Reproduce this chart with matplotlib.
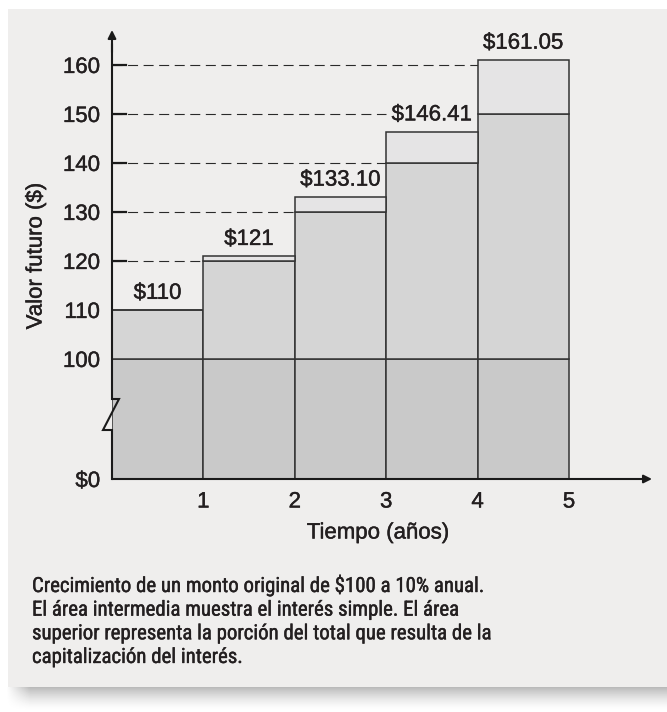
import numpy as np
import matplotlib
matplotlib.use('Agg')
import matplotlib.pyplot as plt
import matplotlib.patheffects as pe
from matplotlib.patches import Rectangle

plt.rcParams['font.family'] = ['Liberation Sans', 'DejaVu Sans']

# Datos: crecimiento de $100 a 10% anual
anios = np.array([1, 2, 3, 4, 5])
principal = np.array([100, 100, 100, 100, 100])
interes_simple = np.array([10, 20, 30, 40, 50])
valor_futuro = np.array([110, 121, 133.10, 146.41, 161.05])
etiquetas_valor = ['$110', '$121', '$133.10', '$146.41', '$161.05']

niveles_guia = [120, 130, 140, 150, 160]
fin_guia = [1, 2, 3, 3, 4]
yticks = [0, 100, 110, 120, 130, 140, 150, 160]
yticklabels = ['$0', '100', '110', '120', '130', '140', '150', '160']

texto_pie = ('Crecimiento de un monto original de $100 a 10% anual.\n'
             'El área intermedia muestra el interés simple. El área\n'
             'superior representa la porción del total que resulta de la\n'
             'capitalización del interés.')

TXT = '#231f20'
FONDO = '#efeeed'
W, H = 667, 712
grueso = [pe.withStroke(linewidth=0.3, foreground=TXT)]


def fx(px):
    return px / W


def fy(py):
    return 1 - py / H


# escala con el eje cortado entre 0 y 100
def adelante(y):
    y = np.asarray(y, dtype=float)
    return np.where(y < 100, y * 0.245, y - 75.5)


def inversa(u):
    u = np.asarray(u, dtype=float)
    return np.where(u < 24.5, u / 0.245, u + 75.5)


fig = plt.figure(figsize=(W / 100, H / 100), dpi=100)
fig.patch.set_facecolor('white')

# sombra bajo el panel
sh = fig.add_axes([0, fy(712), 1, 25 / H], zorder=-6)
filas = np.linspace(0, 1, 25)[:, None]
cols = np.arange(W)[None, :]
oscuro = 0.27 * (1 - filas) ** 1.6 * np.clip((cols - 6) / 24, 0, 1)
sh.imshow(1 - oscuro, cmap='gray', vmin=0, vmax=1, aspect='auto',
          interpolation='bilinear')
sh.axis('off')

fig.add_artist(Rectangle((fx(8), fy(687)), fx(W - 8), (687 - 9) / H,
                         transform=fig.transFigure, facecolor=FONDO,
                         lw=0, zorder=-4))

ax = fig.add_axes([fx(112), fy(479), fx(652 - 112), (479 - 30) / H])
ax.set_facecolor('none')
ax.set_yscale('function', functions=(adelante, inversa))
ax.set_xlim(0, (652 - 112) / 91.4)
ax.set_ylim(0, inversa(449 / 4.9))

ec = '#333333'
x0 = anios - 1
ax.bar(x0, principal, width=1, align='edge', color='#c9c9c9', edgecolor=ec, lw=1.1, zorder=2)
ax.bar(x0, interes_simple, width=1, bottom=principal, align='edge',
       color='#d5d5d5', edgecolor=ec, lw=1.1, zorder=2)
ax.bar(x0, valor_futuro - principal - interes_simple, width=1,
       bottom=principal + interes_simple, align='edge',
       color='#e5e4e5', edgecolor=ec, lw=1.1, zorder=2)

for x, v, t in zip(x0, valor_futuro, etiquetas_valor):
    ax.annotate(t, xy=(x + 0.5, v), xytext=(0, 8), textcoords='offset points',
                ha='center', va='baseline', fontsize=16, color=TXT,
                path_effects=grueso)

# líneas guía punteadas y marcas
for nivel, fin in zip(niveles_guia, fin_guia):
    ax.plot([0, fin], [nivel, nivel], color='#2a2a2a', lw=0.8,
            linestyle=(0, (9, 5)), zorder=1)
    ax.plot([0, 0.15], [nivel, nivel], color='#1a1a1a', lw=1.6, zorder=3)

# ejes con flechas y corte
for s in ax.spines.values():
    s.set_visible(False)
brk_top, brk_bot = inversa(80 / 4.9), inversa(49 / 4.9)
px = 1 / 91.4
ax.plot([0, 0, 7 * px, -9 * px, 0, 0],
        [inversa(449 / 4.9) - 3, brk_top, brk_top, brk_bot, brk_bot, 0],
        color='#1a1a1a', lw=1.5, zorder=4, clip_on=False, solid_joinstyle='miter')
ax.annotate('', xy=(0, 1), xycoords='axes fraction', xytext=(0, 0.95),
            arrowprops=dict(arrowstyle='-|>', color='#1a1a1a', lw=1.5,
                            mutation_scale=12, shrinkA=0, shrinkB=0))
ax.annotate('', xy=(1, 0), xycoords='axes fraction', xytext=(0, 0),
            arrowprops=dict(arrowstyle='-|>', color='#1a1a1a', lw=1.5,
                            mutation_scale=12, shrinkA=0, shrinkB=0), zorder=5)

ax.set_yticks(yticks)
ax.set_yticklabels(yticklabels)
ax.set_xticks(anios)
ax.set_xticklabels([str(a) for a in anios])
ax.tick_params(axis='both', length=0, labelsize=16, colors=TXT)
ax.tick_params(axis='y', pad=8.5)
ax.tick_params(axis='x', pad=9)
ax.minorticks_off()
for lbl in ax.get_xticklabels() + ax.get_yticklabels():
    lbl.set_path_effects(grueso)

fig.text(fx(36), fy(256), 'Valor futuro ($)', rotation=90, ha='center',
         va='center', fontsize=16, color=TXT, path_effects=grueso)
fig.text(fx(378), fy(533), 'Tiempo (años)', ha='center', va='center',
         fontsize=16, color=TXT, path_effects=grueso)
fig.text(fx(32), fy(575), texto_pie, ha='left', va='top', fontsize=15,
         color=TXT, linespacing=1.31, path_effects=grueso,
         family=['Roboto Condensed', 'Liberation Sans'])

fig.savefig('out.png', dpi=100)
